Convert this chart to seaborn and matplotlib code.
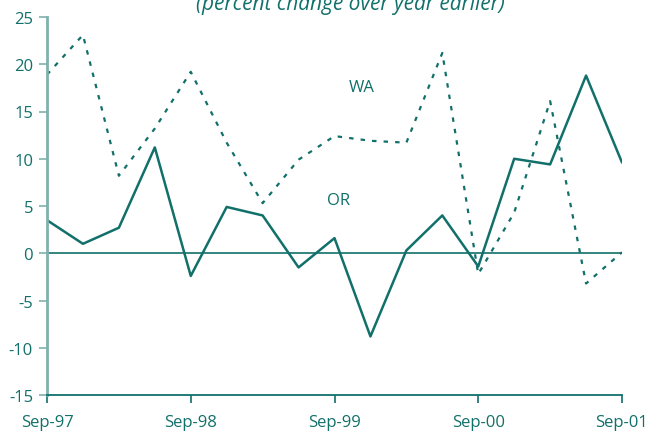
import pandas as pd
import matplotlib
matplotlib.use("Agg")
import matplotlib.pyplot as plt
import seaborn as sns

# quarterly, Sep-97 .. Sep-01
quarters = list(range(17))
tick_pos = [0, 4, 8, 12, 16]
tick_labels = ['Sep-97', 'Sep-98', 'Sep-99', 'Sep-00', 'Sep-01']
oregon = [3.5, 1.0, 2.7, 11.2, -2.4, 4.9, 4.0, -1.5, 1.6, -8.8, 0.3, 4.0, -1.4, 10.0, 9.4, 18.8, 9.6]
washington = [18.9, 23.1, 8.2, 13.2, 19.2, 11.7, 5.3, 9.9, 12.4, 11.9, 11.7, 21.2, -2.2, 4.3, 16.1, -3.2, 0.1]

teal = '#12706a'
light_teal = '#7fb1ad'

sns.set_style('white')
plt.rcParams['font.family'] = ['Open Sans', 'DejaVu Sans']
plt.rcParams['axes.unicode_minus'] = False

df = pd.DataFrame({'q': quarters, 'OR': oregon, 'WA': washington})

fig = plt.figure(figsize=(6.51, 4.39), dpi=100)
ax = fig.add_axes([47/651, 1-396/439, (622-47)/651, (396-18)/439])

sns.lineplot(data=df, x='q', y='OR', ax=ax, color=teal, lw=1.8)
sns.lineplot(data=df, x='q', y='WA', ax=ax, color=teal, lw=1.6, linestyle=(0, (2, 3.2)))
ax.axhline(0, color=teal, lw=1.2)

ax.set_xlim(0, 16)
ax.set_ylim(-15, 25)
ax.set_yticks(range(-15, 26, 5))
ax.set_xticks(tick_pos)
ax.set_xticklabels(tick_labels)
ax.set_xlabel('')
ax.set_ylabel('')

for s in ['top', 'right']:
    ax.spines[s].set_visible(False)
ax.spines['left'].set_color(light_teal)
ax.spines['left'].set_linewidth(2)
ax.spines['bottom'].set_color(teal)
ax.spines['bottom'].set_linewidth(1.3)

ax.tick_params(axis='y', direction='out', length=6, width=1.2, color=light_teal,
               labelcolor=teal, labelsize=12, pad=4, left=True)
ax.tick_params(axis='x', direction='out', length=6, width=1.2, color=teal,
               labelcolor=teal, labelsize=12, pad=8, bottom=True)

ax.text(8.77, 17.6, 'WA', color=teal, fontsize=12, ha='center', va='center')
ax.text(8.1, 5.6, 'OR', color=teal, fontsize=12, ha='center', va='center')

fig.text(350/651, 1-10/439, '(percent change over year earlier)', color=teal,
         fontsize=15, style='italic', ha='center', va='baseline')

fig.savefig('out.png', dpi=100)
